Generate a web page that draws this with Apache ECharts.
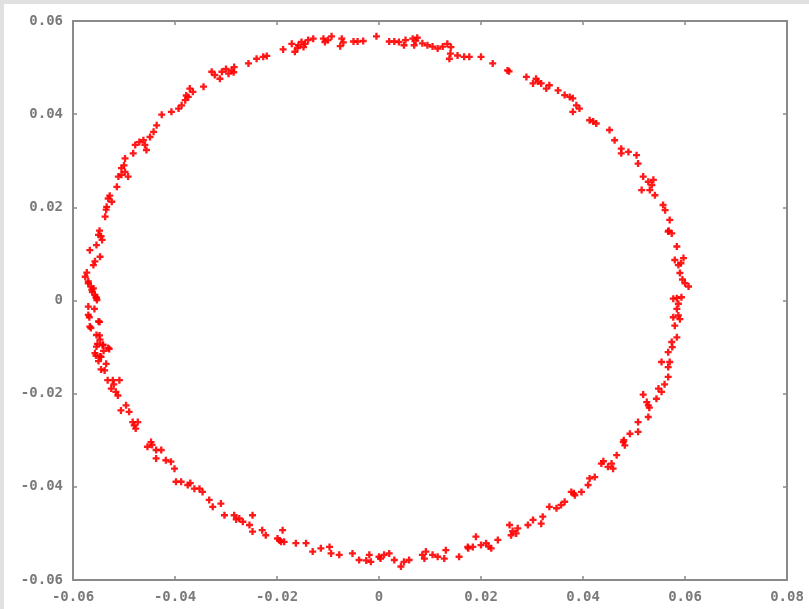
<!DOCTYPE html>
<html>
<head>
<meta charset="utf-8">
<script src="https://cdn.jsdelivr.net/npm/echarts@6/dist/echarts.min.js"></script>
<style>
  html, body { margin: 0; padding: 0; background: #e0e0e0; width: 809px; height: 609px; overflow: hidden; }
  #chart { position: absolute; left: 4px; top: 4px; width: 805px; height: 605px; background: #ffffff; }
</style>
</head>
<body>
<div id="chart"></div>
<script>
// Tick values
const xTicks = [-0.06, -0.04, -0.02, 0, 0.02, 0.04, 0.06, 0.08];
const yTicks = [-0.06, -0.04, -0.02, 0, 0.02, 0.04, 0.06];

// Points, grouped by quadrant of the ring
const upperLeftPoints = [
  [-0.0005,0.0567],[-0.0031,0.0557],[-0.0042,0.0556],[-0.0050,0.0556],[-0.0073,0.0562],[-0.0076,0.0546],
  [-0.0070,0.0554],[-0.0093,0.0567],[-0.0100,0.0559],[-0.0106,0.0555],[-0.0109,0.0562],[-0.0129,0.0562],
  [-0.0139,0.0559],[-0.0145,0.0551],[-0.0148,0.0544],[-0.0158,0.0548],[-0.0165,0.0534],[-0.0171,0.0551],
  [-0.0188,0.0539],[-0.0220,0.0525],[-0.0227,0.0523],[-0.0240,0.0519],[-0.0256,0.0509],[-0.0284,0.0501],
  [-0.0289,0.0494],[-0.0295,0.0487],[-0.0308,0.0491],[-0.0312,0.0476],[-0.0322,0.0484],[-0.0328,0.0491],
  [-0.0344,0.0459],[-0.0371,0.0455],[-0.0374,0.0437],[-0.0380,0.0430],[-0.0387,0.0419],[-0.0393,0.0412],
  [-0.0407,0.0405],[-0.0426,0.0399],[-0.0436,0.0376],[-0.0442,0.0362],[-0.0449,0.0351],[-0.0462,0.0344],
  [-0.0459,0.0334],[-0.0456,0.0323],[-0.0478,0.0334],[-0.0482,0.0316],[-0.0498,0.0305],[-0.0505,0.0284],
  [-0.0498,0.0276],[-0.0511,0.0266],[-0.0492,0.0266],[-0.0514,0.0244],[-0.0531,0.0219],[-0.0534,0.0201],
  [-0.0524,0.0212],[-0.0537,0.0180],[-0.0550,0.0141],[-0.0543,0.0130],[-0.0554,0.0119],[-0.0567,0.0108],
  [-0.0547,0.0094],[-0.0557,0.0084],[-0.0560,0.0076],[-0.0576,0.0051],[-0.0570,0.0041],[-0.0560,0.0026],
  [-0.0557,0.0012],[-0.0553,0.0001],[-0.0570,0.0037],[-0.0563,0.0023],[-0.0554,0.0005],
  [-0.0365,0.0448],[-0.0378,0.0440],[-0.0300,0.0497],[-0.0285,0.0490],[-0.0160,0.0542],[-0.0152,0.0555],
  [-0.0505,0.0270],[-0.0500,0.0290],[-0.0548,0.0150],[-0.0545,0.0138],[-0.0573,0.0060],[-0.0565,0.0030],
  [-0.0562,0.0018],[-0.0528,0.0225],[-0.0535,0.0195],[-0.0470,0.0340]
];
const lowerLeftPoints = [
  [-0.0570,-0.0013],[-0.0570,-0.0031],[-0.0567,-0.0056],[-0.0550,-0.0045],[-0.0554,-0.0074],[-0.0547,-0.0084],
  [-0.0554,-0.0099],[-0.0541,-0.0095],[-0.0531,-0.0102],[-0.0557,-0.0113],[-0.0547,-0.0120],[-0.0555,0.0007],
  [-0.0558,-0.0018],[-0.0568,-0.0036],[-0.0548,-0.0046],[-0.0565,-0.0059],[-0.0548,-0.0075],[-0.0552,-0.0093],
  [-0.0542,-0.0096],[-0.0529,-0.0104],[-0.0555,-0.0118],[-0.0545,-0.0121],[-0.0535,-0.0136],[-0.0545,-0.0148],
  [-0.0538,-0.0150],[-0.0532,-0.0171],[-0.0522,-0.0171],[-0.0509,-0.0171],[-0.0525,-0.0189],[-0.0516,-0.0196],
  [-0.0512,-0.0204],[-0.0496,-0.0225],[-0.0506,-0.0236],[-0.0490,-0.0239],[-0.0483,-0.0261],[-0.0473,-0.0261],
  [-0.0477,-0.0275],[-0.0447,-0.0304],[-0.0454,-0.0314],[-0.0437,-0.0321],[-0.0427,-0.0321],[-0.0437,-0.0339],
  [-0.0418,-0.0343],[-0.0408,-0.0346],[-0.0401,-0.0361],[-0.0398,-0.0389],[-0.0388,-0.0389],[-0.0375,-0.0396],
  [-0.0362,-0.0404],[-0.0352,-0.0404],[-0.0346,-0.0411],[-0.0333,-0.0428],[-0.0326,-0.0443],[-0.0310,-0.0436],
  [-0.0303,-0.0461],[-0.0284,-0.0461],[-0.0274,-0.0468],[-0.0267,-0.0475],[-0.0248,-0.0461],[-0.0254,-0.0482],
  [-0.0248,-0.0496],[-0.0229,-0.0493],[-0.0222,-0.0504],[-0.0199,-0.0511],[-0.0189,-0.0493],[-0.0186,-0.0518],
  [-0.0192,-0.0518],[-0.0163,-0.0521],[-0.0143,-0.0521],[-0.0130,-0.0539],[-0.0114,-0.0532],[-0.0097,-0.0529],
  [-0.0094,-0.0543],[-0.0078,-0.0546],[-0.0052,-0.0543],[-0.0039,-0.0557],[-0.0019,-0.0546],[-0.0016,-0.0561],
  [0.0003,-0.0554],
  [-0.0540,-0.0108],[-0.0550,-0.0130],[-0.0520,-0.0180],[-0.0480,-0.0268],[-0.0445,-0.0310],[-0.0370,-0.0392],
  [-0.0280,-0.0470],[-0.0195,-0.0515],[-0.0025,-0.0558]
];
const lowerRightPoints = [
  [0.0000,-0.0550],[0.0010,-0.0546],[0.0020,-0.0543],[0.0030,-0.0557],[0.0043,-0.0571],[0.0049,-0.0561],
  [0.0059,-0.0557],[0.0085,-0.0546],[0.0092,-0.0539],[0.0089,-0.0554],[0.0105,-0.0546],[0.0115,-0.0550],
  [0.0128,-0.0554],[0.0131,-0.0536],[0.0157,-0.0550],[0.0174,-0.0529],[0.0184,-0.0529],[0.0190,-0.0507],
  [0.0200,-0.0525],[0.0210,-0.0521],[0.0220,-0.0532],[0.0233,-0.0514],[0.0256,-0.0482],[0.0259,-0.0504],
  [0.0269,-0.0500],[0.0272,-0.0489],[0.0292,-0.0482],[0.0302,-0.0471],[0.0318,-0.0479],[0.0321,-0.0464],
  [0.0334,-0.0443],[0.0348,-0.0446],[0.0357,-0.0439],[0.0364,-0.0432],[0.0377,-0.0411],[0.0384,-0.0418],
  [0.0397,-0.0411],[0.0410,-0.0396],[0.0413,-0.0382],[0.0423,-0.0379],[0.0436,-0.0350],[0.0449,-0.0357],
  [0.0456,-0.0350],[0.0466,-0.0332],[0.0459,-0.0361],[0.0479,-0.0304],[0.0482,-0.0311],[0.0492,-0.0286],
  [0.0508,-0.0282],[0.0508,-0.0261],[0.0528,-0.0225],[0.0525,-0.0218],[0.0528,-0.0250],[0.0518,-0.0202],
  [0.0544,-0.0211],[0.0548,-0.0189],[0.0554,-0.0196],[0.0567,-0.0164],[0.0554,-0.0132],[0.0567,-0.0143],
  [0.0570,-0.0132],[0.0567,-0.0111],[0.0574,-0.0089],[0.0584,-0.0079],[0.0580,-0.0054],[0.0577,-0.0036],
  [0.0587,-0.0032],[0.0584,-0.0018],[0.0587,-0.0007],[0.0577,0.0004],[0.0593,0.0007],
  [0.0175,-0.0532],[0.0215,-0.0528],[0.0262,-0.0495],[0.0382,-0.0414],[0.0440,-0.0345],[0.0480,-0.0300],
  [0.0530,-0.0230],[0.0560,-0.0180],[0.0575,-0.0100],[0.0590,-0.0040]
];
const upperRightPoints = [
  [0.0020,0.0556],[0.0030,0.0556],[0.0039,0.0555],[0.0049,0.0548],[0.0052,0.0559],[0.0066,0.0562],
  [0.0075,0.0564],[0.0069,0.0548],[0.0085,0.0552],[0.0095,0.0548],[0.0105,0.0545],[0.0115,0.0541],
  [0.0125,0.0545],[0.0134,0.0551],[0.0141,0.0544],[0.0138,0.0519],[0.0154,0.0526],[0.0167,0.0523],
  [0.0177,0.0523],[0.0200,0.0523],[0.0223,0.0509],[0.0252,0.0494],[0.0289,0.0480],[0.0308,0.0476],
  [0.0302,0.0466],[0.0318,0.0466],[0.0328,0.0455],[0.0334,0.0462],[0.0351,0.0451],[0.0364,0.0441],
  [0.0380,0.0434],[0.0374,0.0437],[0.0387,0.0419],[0.0393,0.0412],[0.0380,0.0405],[0.0413,0.0387],
  [0.0426,0.0380],[0.0452,0.0366],[0.0462,0.0344],[0.0475,0.0326],[0.0475,0.0316],[0.0489,0.0319],
  [0.0505,0.0312],[0.0508,0.0294],[0.0518,0.0266],[0.0528,0.0255],[0.0538,0.0259],[0.0531,0.0237],
  [0.0541,0.0226],[0.0515,0.0237],[0.0557,0.0205],[0.0561,0.0194],[0.0570,0.0173],[0.0567,0.0148],
  [0.0574,0.0144],[0.0584,0.0116],[0.0580,0.0087],[0.0587,0.0076],[0.0597,0.0091],[0.0590,0.0059],
  [0.0600,0.0037],[0.0607,0.0030],[0.0584,0.0005],
  [0.0072,0.0558],[0.0140,0.0530],[0.0255,0.0492],[0.0312,0.0470],[0.0420,0.0384],[0.0535,0.0248],
  [0.0568,0.0150],[0.0592,0.0080],[0.0595,0.0045]
];

const allPoints = upperLeftPoints.concat(lowerLeftPoints, lowerRightPoints, upperRightPoints);

const AXIS_COLOR = '#8a8a8a';
const LABEL_STYLE = { fontFamily: 'DejaVu Sans Mono', fontSize: 14, fontWeight: 'bold', color: '#7a7a7a' };
function fmt(v) {
  if (Math.abs(v) < 1e-9) return '0';
  return v.toFixed(2);
}
function axisBase(min, max, position, showLabel) {
  return {
    type: 'value',
    min: min, max: max, interval: 0.02,
    position: position,
    splitLine: { show: false },
    axisLine: { show: true, onZero: false, lineStyle: { color: AXIS_COLOR, width: 2 } },
    axisTick: { show: true, inside: true, length: 4, lineStyle: { color: AXIS_COLOR, width: 1.5 } },
    axisLabel: Object.assign({ show: showLabel, formatter: fmt, margin: 10 }, LABEL_STYLE)
  };
}

const chart = echarts.init(document.getElementById('chart'), null, { renderer: 'canvas' });
chart.setOption({
  animation: false,
  backgroundColor: '#ffffff',
  grid: { left: 69, top: 17, right: 22, bottom: 29, containLabel: false },
  xAxis: [
    axisBase(xTicks[0], xTicks[xTicks.length - 1], 'bottom', true),
    axisBase(xTicks[0], xTicks[xTicks.length - 1], 'top', false)
  ],
  yAxis: [
    axisBase(yTicks[0], yTicks[yTicks.length - 1], 'left', true),
    axisBase(yTicks[0], yTicks[yTicks.length - 1], 'right', false)
  ],
  series: [{
    type: 'scatter',
    xAxisIndex: 0,
    yAxisIndex: 0,
    data: allPoints,
    symbol: 'path://M2,0H4V2H6V4H4V6H2V4H0V2H2Z',
    symbolSize: 7,
    itemStyle: { color: '#ff0000', opacity: 0.9 }
  }]
});
</script>
</body>
</html>
